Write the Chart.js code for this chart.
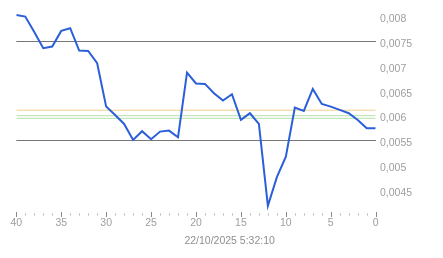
<!DOCTYPE html>
<html>
<head>
<meta charset="utf-8">
<script src="https://cdn.jsdelivr.net/npm/chart.js@4/dist/chart.umd.min.js"></script>
<style>
  html, body { margin: 0; padding: 0; background: #fff; }
  canvas { display: block; }
</style>
</head>
<body>
<canvas id="c" width="443" height="258"></canvas>
<script>
// ---- data ----
const xValues = [40,39,38,37,36,35,34,33,32,31,30,29,28,27,26,25,24,23,22,21,20,19,18,17,16,15,14,13,12,11,10,9,8,7,6,5,4,3,2,1,0];
const seriesValues = [
  0.008031, 0.007997, 0.007688, 0.007359, 0.007391, 0.007708, 0.007763, 0.007310, 0.007304, 0.007056,
  0.006179, 0.006011, 0.005829, 0.005506, 0.005682, 0.005520, 0.005674, 0.005694, 0.005561, 0.006866,
  0.006647, 0.006637, 0.006449, 0.006300, 0.006429, 0.005910, 0.006045, 0.005829, 0.004173, 0.004753,
  0.005169, 0.006159, 0.006092, 0.006536, 0.006233, 0.006179, 0.006112, 0.006045, 0.005910, 0.005742,
  0.005742
];
const refOrange = 0.006106;
const refGreen1 = 0.005995;
const refGreen2 = 0.005942;
const yTickValues = [0.0045, 0.005, 0.0055, 0.006, 0.0065, 0.007, 0.0075, 0.008];
const darkGridValues = [0.0075, 0.0055];
const xTitle = '22/10/2025 5:32:10';

const mainPts = xValues.map((x, i) => ({ x: x, y: seriesValues[i] }));
const refLine = v => [{ x: 40, y: v }, { x: 0, y: v }];

const isNear = (a, b) => Math.abs(a - b) < 1e-9;

const tickPlugin = {
  id: 'minorTicks',
  afterDraw(chart) {
    const xs = chart.scales.x;
    const ctx = chart.ctx;
    const top = chart.chartArea.bottom;
    ctx.save();
    for (let k = 0; k <= 40; k++) {
      const px = Math.round(xs.getPixelForValue(k)) + 0.5;
      const major = k % 5 === 0;
      ctx.strokeStyle = major ? '#8a8a8a' : '#b5b5b5';
      ctx.lineWidth = 1;
      ctx.beginPath();
      if (major) { ctx.moveTo(px, top); ctx.lineTo(px, top + 5); }
      else { ctx.moveTo(px, top + 1.5); ctx.lineTo(px, top + 3.5); }
      ctx.stroke();
    }
    ctx.restore();
  }
};

new Chart(document.getElementById('c'), {
  type: 'line',
  data: {
    datasets: [
      { data: mainPts, borderColor: '#2b5fd9', borderWidth: 2, pointRadius: 0, tension: 0, fill: false },
      { data: refLine(refOrange), borderColor: '#f2cf8c', borderWidth: 1, pointRadius: 0, fill: false },
      { data: refLine(refGreen1), borderColor: '#b6e0ab', borderWidth: 1, pointRadius: 0, fill: false },
      { data: refLine(refGreen2), borderColor: '#b6e0ab', borderWidth: 1, pointRadius: 0, fill: false }
    ]
  },
  options: {
    responsive: false,
    animation: false,
    events: [],
    layout: { padding: { left: 16.3, top: 1.6, right: 0, bottom: 0 } },
    plugins: {
      legend: { display: false },
      tooltip: { enabled: false },
      title: {
        display: true,
        position: 'bottom',
        text: xTitle,
        color: '#8f8f8f',
        font: { family: 'Liberation Sans, Arial, sans-serif', size: 10.5, weight: 'normal' },
        padding: { top: 0, bottom: 10.7 }
      }
    },
    scales: {
      x: {
        type: 'linear',
        reverse: true,
        min: 0,
        max: 40,
        afterFit(scale) { scale.height = 22.7; scale.paddingLeft = 0; scale.paddingRight = 0; },
        afterBuildTicks(scale) { scale.ticks = xValues.filter(v => v % 5 === 0).map(v => ({ value: v })); },
        grid: { display: false, drawTicks: false },
        border: { display: false },
        ticks: {
          autoSkip: false,
          maxRotation: 0,
          padding: 5,
          color: '#9e9e9e',
          font: { family: 'Liberation Sans, Arial, sans-serif', size: 10.5 },
          callback: v => String(v)
        }
      },
      y: {
        type: 'linear',
        position: 'right',
        min: 0.00405,
        max: 0.0083,
        afterFit(scale) { scale.width = 67.3; scale.paddingTop = 0; scale.paddingBottom = 0; },
        afterBuildTicks(scale) { scale.ticks = yTickValues.map(v => ({ value: v })); },
        grid: {
          drawTicks: false,
          color: ctx => (ctx.tick && darkGridValues.some(v => isNear(v, ctx.tick.value))) ? '#767676' : 'rgba(0,0,0,0)',
          lineWidth: 1
        },
        border: { display: false },
        ticks: {
          padding: 4.3,
          labelOffset: 3,
          color: '#9e9e9e',
          font: { family: 'Liberation Sans, Arial, sans-serif', size: 10.5 },
          callback: v => String(parseFloat(v.toFixed(5))).replace('.', ',')
        }
      }
    }
  },
  plugins: [tickPlugin]
});
</script>
</body>
</html>
